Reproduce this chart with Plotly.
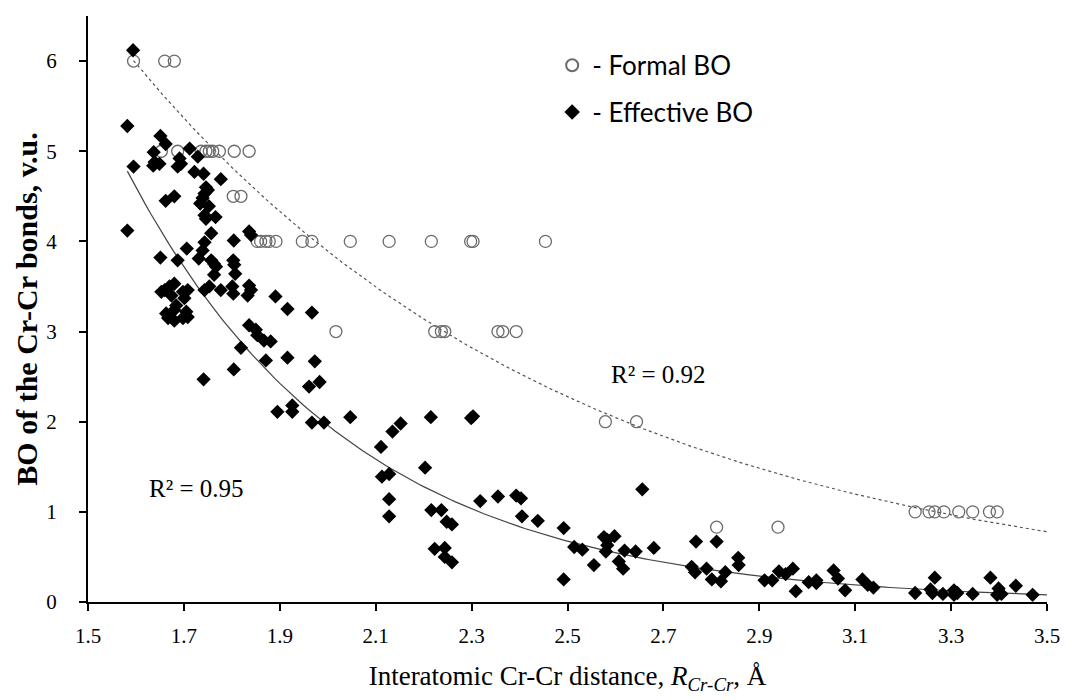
import numpy as np
import plotly.graph_objects as go

# ---- Formal bond orders (open circles) ----
formal_x = [1.595, 1.660, 1.680,
            1.653, 1.687, 1.736, 1.746, 1.753, 1.760, 1.774, 1.805, 1.836,
            1.803, 1.819,
            1.853, 1.860, 1.871, 1.878, 1.892, 1.947, 1.967, 2.047, 2.128, 2.216, 2.298, 2.303, 2.454,
            2.017, 2.223, 2.237, 2.244, 2.355, 2.365, 2.393,
            2.579, 2.644,
            2.811, 2.939,
            3.225, 3.254, 3.266, 3.285, 3.316, 3.345, 3.380, 3.396]
formal_y = [6, 6, 6,
            5, 5, 5, 5, 5, 5, 5, 5, 5,
            4.5, 4.5,
            4, 4, 4, 4, 4, 4, 4, 4, 4, 4, 4, 4, 4,
            3, 3, 3, 3, 3, 3, 3,
            2, 2,
            0.83, 0.83,
            1, 1, 1, 1, 1, 1, 1, 1]

# ---- Effective bond orders (filled diamonds) ----
eff_x = [1.594, 1.582, 1.651, 1.662, 1.637, 1.712, 1.595, 1.639, 1.649, 1.636,
         1.691, 1.694, 1.687, 1.729, 1.722, 1.741, 1.777, 1.746, 1.743, 1.750,
         1.734, 1.739, 1.752, 1.662, 1.680, 1.743, 1.746, 1.766, 1.582, 1.757,
         1.836, 1.840, 1.804, 1.743, 1.739, 1.706, 1.651, 1.687, 1.731, 1.757,
         1.763, 1.767, 1.803, 1.805, 1.807, 1.763,
         1.660, 1.670, 1.680, 1.653, 1.674, 1.698, 1.708, 1.701, 1.684, 1.680,
         1.663, 1.667, 1.680, 1.705, 1.708, 1.698,
         1.743, 1.753, 1.777, 1.801, 1.803, 1.836, 1.840, 1.833, 1.891, 1.916,
         1.967, 1.836, 1.850, 1.853, 1.867, 1.881, 1.819, 1.871, 1.916, 1.973,
         1.804, 1.741, 1.961, 1.983, 1.895, 1.926, 1.926, 1.967, 1.992, 2.047,
         2.111, 2.135, 2.152, 2.215, 2.299, 2.303,
         2.113, 2.128, 2.128, 2.128, 2.203, 2.216, 2.237, 2.248, 2.259,
         2.223, 2.244, 2.244, 2.259, 2.318, 2.355, 2.393, 2.403, 2.405, 2.438,
         2.492, 2.492, 2.514, 2.531, 2.555, 2.576, 2.583, 2.598, 2.583, 2.580,
         2.607, 2.616, 2.619, 2.642, 2.656, 2.680, 2.768, 2.811, 2.759, 2.766,
         2.790, 2.801, 2.820, 2.829,
         2.856, 2.857, 2.911, 2.927, 2.941, 2.955, 2.970, 2.976, 3.003, 3.019,
         3.019, 3.055, 3.064, 3.079, 3.115, 3.126, 3.138, 3.225, 3.257, 3.261,
         3.266, 3.283, 3.306, 3.313, 3.306, 3.345, 3.382, 3.399, 3.396, 3.405,
         3.435, 3.470]
eff_y = [6.12, 5.28, 5.17, 5.08, 4.99, 5.03, 4.83, 4.88, 4.86, 4.84,
         4.92, 4.86, 4.83, 4.94, 4.77, 4.75, 4.69, 4.60, 4.53, 4.57,
         4.42, 4.48, 4.39, 4.45, 4.50, 4.29, 4.25, 4.27, 4.12, 4.09,
         4.11, 4.07, 4.01, 3.99, 3.90, 3.92, 3.82, 3.79, 3.81, 3.79,
         3.75, 3.72, 3.79, 3.74, 3.64, 3.63,
         3.46, 3.50, 3.53, 3.44, 3.40, 3.44, 3.46, 3.37, 3.29, 3.24,
         3.20, 3.15, 3.12, 3.22, 3.16, 3.15,
         3.46, 3.50, 3.46, 3.50, 3.42, 3.51, 3.46, 3.40, 3.39, 3.25,
         3.21, 3.07, 3.02, 2.96, 2.90, 2.89, 2.82, 2.68, 2.71, 2.67,
         2.58, 2.47, 2.39, 2.44, 2.11, 2.18, 2.11, 1.99, 1.99, 2.05,
         1.72, 1.89, 1.98, 2.05, 2.04, 2.06,
         1.39, 1.42, 1.14, 0.95, 1.49, 1.02, 1.02, 0.89, 0.86,
         0.59, 0.60, 0.50, 0.44, 1.12, 1.17, 1.18, 1.15, 0.95, 0.90,
         0.82, 0.25, 0.61, 0.58, 0.41, 0.72, 0.69, 0.73, 0.63, 0.56,
         0.45, 0.37, 0.57, 0.56, 1.25, 0.60, 0.67, 0.67, 0.39, 0.33,
         0.37, 0.25, 0.23, 0.33,
         0.49, 0.41, 0.24, 0.24, 0.34, 0.31, 0.37, 0.12, 0.22, 0.24,
         0.21, 0.35, 0.26, 0.13, 0.25, 0.19, 0.16, 0.10, 0.14, 0.10,
         0.27, 0.09, 0.13, 0.10, 0.08, 0.09, 0.27, 0.15, 0.08, 0.09,
         0.18, 0.08]

x_ticks = [1.5, 1.7, 1.9, 2.1, 2.3, 2.5, 2.7, 2.9, 3.1, 3.3, 3.5]
y_ticks = [0, 1, 2, 3, 4, 5, 6]

# Exponential trendline equations shown in the chart, y = a * exp(-b * x)
formal_trend = dict(a=33.2, b=1.072, r2_label="R² = 0.92")
eff_trend = dict(a=139.6, b=2.133, r2_label="R² = 0.95")
trend_x_end = 3.5


def trend_curve(x_data, trend):
    xs = np.linspace(min(x_data), trend_x_end, 200)
    return xs, trend["a"] * np.exp(-trend["b"] * xs)


fx, fy = trend_curve(formal_x, formal_trend)
ex, ey = trend_curve(eff_x, eff_trend)

SERIF = "Liberation Serif"

fig = go.Figure()
fig.add_trace(go.Scatter(x=fx, y=fy, mode="lines", showlegend=False, hoverinfo="skip",
                         line=dict(color="#555555", width=1.2, dash="dot")))
fig.add_trace(go.Scatter(x=ex, y=ey, mode="lines", showlegend=False, hoverinfo="skip",
                         line=dict(color="#444444", width=1.2)))
fig.add_trace(go.Scatter(x=formal_x, y=formal_y, mode="markers", name="- Formal BO",
                         legendgroup="f",
                         marker=dict(symbol="circle-open", size=12, color="#6b6b6b",
                                     line=dict(width=1.3, color="#6b6b6b"))))
fig.add_trace(go.Scatter(x=eff_x, y=eff_y, mode="markers", name="- Effective BO",
                         legendgroup="e",
                         marker=dict(symbol="diamond", size=11, color="black")))

fig.add_annotation(x=2.587, y=2.52, text=formal_trend["r2_label"], showarrow=False,
                   xanchor="left", font=dict(family=SERIF, size=25, color="black"))
fig.add_annotation(x=1.622, y=1.26, text=eff_trend["r2_label"], showarrow=False,
                   xanchor="left", font=dict(family=SERIF, size=25, color="black"))

fig.update_layout(
    width=1072, height=700,
    margin=dict(l=88, r=20, t=16, b=98),
    paper_bgcolor="white", plot_bgcolor="white",
    legend=dict(x=0.484, y=0.956, xanchor="left", yanchor="top",
                font=dict(family="Lato", size=26, color="black"),
                bgcolor="rgba(0,0,0,0)", itemsizing="constant", tracegroupgap=10),
    xaxis=dict(range=[1.5, 3.5], tickvals=x_ticks, ticktext=[f"{v:.1f}" for v in x_ticks],
               showgrid=False, zeroline=False, showline=True, linecolor="black", linewidth=2,
               ticks="outside", ticklen=7, tickwidth=2, tickcolor="black",
               ticklabelstandoff=7,
               tickfont=dict(family=SERIF, size=21, color="black"),
               title=dict(text="Interatomic Cr-Cr distance, <i>R</i><sub><i>Cr-Cr</i></sub>, Å",
                          font=dict(family=SERIF, size=27, color="black"), standoff=19)),
    yaxis=dict(range=[0, 6.5], tickvals=y_ticks, showgrid=False, zeroline=False,
               showline=True, linecolor="black", linewidth=2,
               ticks="outside", ticklen=7, tickwidth=2, tickcolor="black",
               ticklabelstandoff=18,
               tickfont=dict(family=SERIF, size=21, color="black"),
               title=dict(text="<b>BO of the Cr-Cr bonds, v.u.</b>",
                          font=dict(family=SERIF, size=30, color="black"), standoff=0)),
)

fig.write_html("out.html", config={"displayModeBar": False},
               post_script="document.body.style.margin='0';")
